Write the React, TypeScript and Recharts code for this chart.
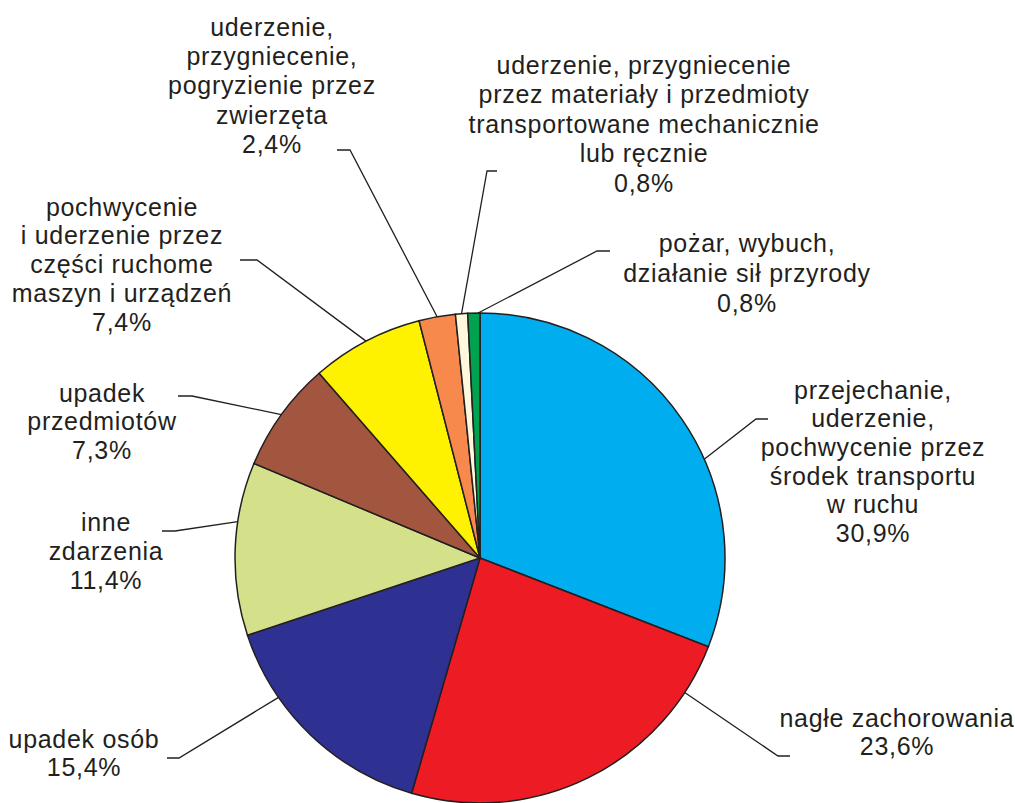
import React from 'react';
import { Pie, PieChart, Cell } from 'recharts';

// Wypadki przy pracy według wydarzenia (udział %)
const categories: string[][] = [
  ['przejechanie,', 'uderzenie,', 'pochwycenie przez', 'środek transportu', 'w ruchu'],
  ['nagłe zachorowania'],
  ['upadek osób'],
  ['inne', 'zdarzenia'],
  ['upadek', 'przedmiotów'],
  ['pochwycenie', 'i uderzenie przez', 'części ruchome', 'maszyn i urządzeń'],
  ['uderzenie,', 'przygniecenie,', 'pogryzienie przez', 'zwierzęta'],
  ['uderzenie, przygniecenie', 'przez materiały i przedmioty', 'transportowane mechanicznie', 'lub ręcznie'],
  ['pożar, wybuch,', 'działanie sił przyrody'],
];

const shares: number[] = [30.9, 23.6, 15.4, 11.4, 7.3, 7.4, 2.4, 0.8, 0.8];

const colors: string[] = [
  '#00aeef',
  '#ed1c24',
  '#2e3192',
  '#d5e08a',
  '#a3563f',
  '#fff200',
  '#f6894b',
  '#fff8dc',
  '#00a14f',
];

// label layout: text centre, first line centre, line height, leader end, elbow, angle shift (deg, clockwise)
const labelLayout = [
  { tx: 873, ty: 390, lh: 28.6, ex: 768, ey: 419, bx: 756, by: 419, shift: 10.6 },
  { tx: 897, ty: 718, lh: 28.5, ex: 790, ey: 756, bx: 778, by: 756, shift: -30.4 },
  { tx: 84, ty: 739, lh: 28.5, ex: 167, ey: 758, bx: 179, by: 758, shift: 11.4 },
  { tx: 106, ty: 522, lh: 29, ex: 162, ey: 531, bx: 175, by: 531, shift: 6.4 },
  { tx: 102, ty: 393, lh: 28.5, ex: 178, ey: 396, bx: 192, by: 396, shift: 0 },
  { tx: 122, ty: 207, lh: 28.7, ex: 240, ey: 260, bx: 257, by: 260, shift: 0 },
  { tx: 272, ty: 27, lh: 29.3, ex: 337, ey: 150, bx: 350, by: 150, shift: 0 },
  { tx: 644, ty: 65, lh: 29.5, ex: 497, ey: 171, bx: 487, by: 171, shift: 0 },
  { tx: 747, ty: 243, lh: 30, ex: 610, ey: 251, bx: 597, by: 251, shift: 1 },
];

const data = shares.map((value, i) => ({ name: categories[i].join(' '), value }));

const RAD = Math.PI / 180;
const TEXT_COLOR = '#231f20';
const FONT_SIZE = 25;

const formatPct = (v: number) => `${v.toFixed(1).replace('.', ',')}%`;

const renderLabel = (props: any) => {
  const { cx, cy, midAngle, outerRadius, index, value } = props;
  const l = labelLayout[index];
  const angle = midAngle - l.shift;
  const px = cx + Math.cos(-angle * RAD) * outerRadius;
  const py = cy + Math.sin(-angle * RAD) * outerRadius;
  const lines = [...categories[index], formatPct(value)];
  return (
    <g>
      <polyline
        points={`${l.ex},${l.ey} ${l.bx},${l.by} ${px},${py}`}
        fill="none"
        stroke={TEXT_COLOR}
        strokeWidth={1.3}
      />
      <text
        x={l.tx}
        y={l.ty}
        textAnchor="middle"
        fill={TEXT_COLOR}
        fontSize={FONT_SIZE}
        letterSpacing={0.7}
        fontFamily="'Liberation Sans', Arial, sans-serif"
      >
        {lines.map((line, j) => (
          <tspan key={j} x={l.tx} y={l.ty + j * l.lh} dy="0.35em">
            {line}
          </tspan>
        ))}
      </text>
    </g>
  );
};

export default function App() {
  return (
    <div style={{ position: 'absolute', left: 0, top: 0, width: 1015, height: 803, background: '#fff' }}>
      <PieChart width={1015} height={803} margin={{ top: 0, right: 0, bottom: 0, left: 0 }}>
        <Pie
          data={data}
          dataKey="value"
          nameKey="name"
          cx={480}
          cy={558}
          outerRadius={245}
          startAngle={90}
          endAngle={-270}
          stroke={TEXT_COLOR}
          strokeWidth={1.5}
          label={renderLabel}
          labelLine={false}
          isAnimationActive={false}
        >
          {data.map((_, i) => (
            <Cell key={i} fill={colors[i]} />
          ))}
        </Pie>
      </PieChart>
    </div>
  );
}
